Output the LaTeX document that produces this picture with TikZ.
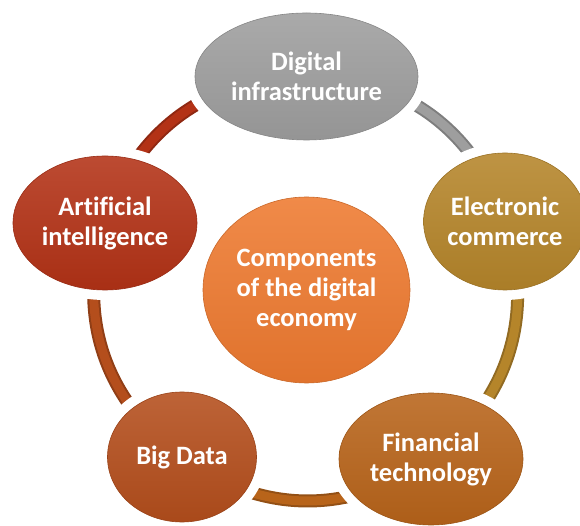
\documentclass[tikz,border=0pt]{standalone}
\usepackage{fontspec}
\setmainfont{Carlito}[Ligatures=NoCommon]
\usetikzlibrary{shapes.geometric,positioning}

\definecolor{hubcol}{HTML}{EE7A30}
\definecolor{infracol}{HTML}{9E9E9E}
\definecolor{ecomcol}{HTML}{B5852A}
\definecolor{fincol}{HTML}{B8641A}
\definecolor{bigcol}{HTML}{B44E1C}
\definecolor{aicol}{HTML}{B33216}

\begin{document}
\begin{tikzpicture}[
    x=1pt, y=1pt,
    compnode/.style={ellipse, inner sep=0pt, align=center, text=white,
        font=\bfseries\fontsize{26.5}{30}\selectfont,
        preaction={draw=white, line width=20pt},
        draw=#1!85!black, line width=0.6pt,
        top color=#1!88!white, bottom color=#1!94!black},
    ringseg/.style={draw=#1!80!black, double=#1, double distance=9pt, line width=2pt}
]
\pgfdeclarelayer{bg}
\pgfsetlayers{bg,main}

\useasboundingbox (-306.5,-236) rectangle (273.5,290);

% ----------------------------
% Nodes
% ----------------------------
\node[compnode=hubcol, minimum width=207pt, minimum height=186pt] (hub) at (0,0) {Components\\of the digital\\economy};

\node[compnode=infracol, minimum width=223pt, minimum height=127pt] (infra) at (0,213.5) {Digital\\infrastructure};
\node[compnode=ecomcol, minimum width=160pt, minimum height=137pt] (ecom) at (198.5,68.5) {Electronic\\commerce};
\node[compnode=fincol, minimum width=184pt, minimum height=132pt] (fin) at (124.5,-169) {Financial\\technology};
\node[compnode=bigcol, minimum width=149pt, minimum height=130pt] (big) at (-124.5,-167) {Big Data};
\node[compnode=aicol, minimum width=184pt, minimum height=134pt] (ai) at (-201.5,67) {Artificial\\intelligence};

% ----------------------------
% Ring (background layer)
% ----------------------------
\begin{pgfonlayer}{bg}
\path[ringseg=aicol] (ai.center) to[bend left=36] (infra.center);
\path[ringseg=infracol] (infra.center) to[bend left=36] (ecom.center);
\path[ringseg=ecomcol] (ecom.center) to[bend left=36] (fin.center);
\path[ringseg=fincol] (fin.center) to[bend left=36] (big.center);
\path[ringseg=bigcol] (big.center) to[bend left=36] (ai.center);
\end{pgfonlayer}

\end{tikzpicture}
\end{document}
